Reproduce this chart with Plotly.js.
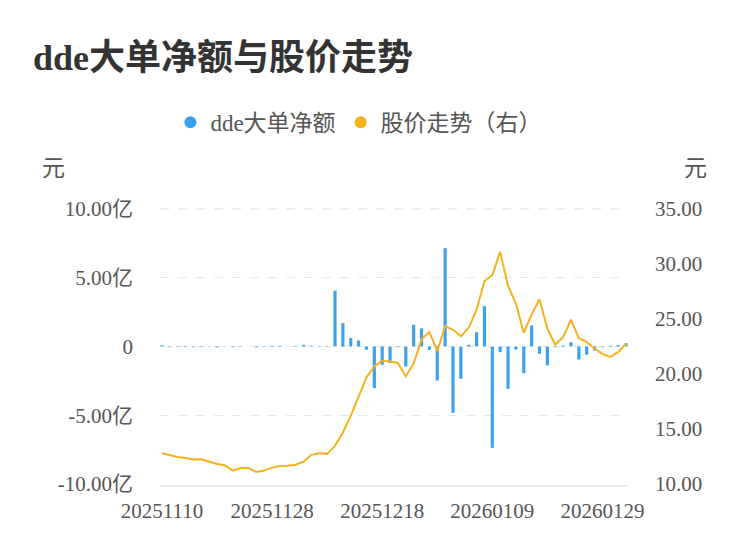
<!DOCTYPE html>
<html>
<head>
<meta charset="utf-8">
<script src="https://cdn.plot.ly/plotly-3.0.1.min.js"></script>
<style>
  html, body { margin: 0; padding: 0; background: #fff; }
  #chart { width: 750px; height: 558px; }
</style>
</head>
<body>
<div id="chart"></div>
<script>
// 交易日
const dates = [
  '20251110','20251111','20251112','20251113','20251114',
  '20251117','20251118','20251119','20251120','20251121',
  '20251124','20251125','20251126','20251127','20251128',
  '20251201','20251202','20251203','20251204','20251205',
  '20251208','20251209','20251210','20251211','20251212',
  '20251215','20251216','20251217','20251218','20251219',
  '20251222','20251223','20251224','20251225','20251226',
  '20251229','20251230','20251231',
  '20260105','20260106','20260107','20260108','20260109',
  '20260112','20260113','20260114','20260115','20260116',
  '20260119','20260120','20260121','20260122','20260123',
  '20260126','20260127','20260128','20260129','20260130',
  '20260202','20260203'
];

// dde大单净额 (亿元)
const ddeNet = [
  0.08, -0.05, -0.04, -0.04, -0.05, -0.04, -0.03, -0.06, 0.02, -0.05,
  0.03, 0.00, -0.06, 0.04, 0.05, 0.06, 0.00, 0.05, 0.12, 0.05,
  0.04, -0.03, 4.05, 1.70, 0.61, 0.44, -0.24, -3.03, -1.33, -1.21,
  -0.05, -1.45, 1.58, 1.32, -0.24, -2.47, 7.15, -4.82, -2.35, 0.12,
  1.04, 2.93, -7.37, -0.41, -3.08, -0.22, -1.94, 1.53, -0.53, -1.38,
  -0.05, 0.06, 0.31, -0.95, -0.60, -0.29, -0.05, 0.05, 0.10, 0.24
];

// 股价 (元)
const price = [
  12.80, 12.62, 12.46, 12.37, 12.22, 12.25, 12.00, 11.82, 11.70, 11.22,
  11.46, 11.46, 11.09, 11.22, 11.49, 11.64, 11.67, 11.76, 12.03, 12.65,
  12.80, 12.74, 13.47, 14.68, 16.20, 17.87, 19.70, 20.68, 21.22, 21.13,
  21.00, 19.78, 20.95, 23.15, 23.82, 22.07, 24.35, 24.02, 23.44, 24.20,
  25.85, 28.43, 29.00, 31.10, 28.00, 26.40, 23.75, 25.42, 26.79, 24.11,
  22.68, 23.35, 24.93, 23.26, 22.89, 22.32, 21.83, 21.56, 21.98, 22.75
];

// 轴刻度
const xTickVals = ['20251110','20251128','20251218','20260109','20260129'];
const leftTickVals = [-10, -5, 0, 5, 10];
const leftTickText = ['-10.00亿', '-5.00亿', '0', '5.00亿', '10.00亿'];
const rightTickVals = [10, 15, 20, 25, 30, 35];

const blue = '#3aa1f0';
const orange = '#f6b21c';
const gridColor = '#e8e8e8';
const fontFamily = '"Liberation Serif", "Noto Sans CJK SC", serif';

const barTrace = {
  x: dates,
  y: ddeNet,
  type: 'bar',
  name: 'dde大单净额',
  marker: { color: blue },
  width: 0.4,
  yaxis: 'y',
  showlegend: false
};

const lineTrace = {
  x: dates,
  y: price,
  type: 'scatter',
  mode: 'lines',
  name: '股价走势（右）',
  line: { color: orange, width: 2 },
  yaxis: 'y2',
  showlegend: false
};

// 图例用圆点
const legendBar = {
  x: [null], y: [null], type: 'scatter', mode: 'markers',
  name: 'dde大单净额', marker: { color: blue, size: 12, symbol: 'circle' }
};
const legendLine = {
  x: [null], y: [null], type: 'scatter', mode: 'markers', yaxis: 'y2',
  name: '股价走势（右）', marker: { color: orange, size: 12, symbol: 'circle' }
};

const layout = {
  width: 750,
  height: 558,
  margin: { l: 160, r: 122, t: 208, b: 73 },
  paper_bgcolor: '#fff',
  plot_bgcolor: '#fff',
  font: { family: fontFamily, color: '#555', size: 21 },
  title: {
    text: '<b>dde大单净额与股价走势</b>',
    font: { family: fontFamily, size: 36, color: '#333' },
    x: 0.044, xref: 'container', xanchor: 'left',
    y: 0.898, yref: 'container', yanchor: 'middle'
  },
  showlegend: true,
  legend: {
    orientation: 'h',
    x: 0.425, xanchor: 'center',
    y: 1.309, yanchor: 'middle',
    font: { size: 23, color: '#555' },
    itemclick: false, itemdoubleclick: false
  },
  xaxis: {
    type: 'category',
    range: [-0.25, 59.25],
    tickmode: 'array',
    tickvals: xTickVals,
    ticktext: xTickVals,
    showgrid: false,
    showline: true,
    linecolor: '#ececec',
    linewidth: 2,
    ticks: '',
    ticklabelstandoff: 6,
    zeroline: false
  },
  yaxis: {
    range: [-10.07, 10.07],
    tickmode: 'array',
    tickvals: leftTickVals,
    ticktext: leftTickText,
    showgrid: true,
    gridcolor: gridColor,
    gridwidth: 1.5,
    griddash: 'dash',
    zeroline: false,
    ticks: '',
    ticklabelstandoff: 26
  },
  yaxis2: {
    overlaying: 'y',
    side: 'right',
    range: [9.91, 35.09],
    tickmode: 'array',
    tickvals: rightTickVals,
    tickformat: '.2f',
    showgrid: false,
    zeroline: false,
    ticks: '',
    ticklabelstandoff: 26
  },
  // 顶部网格线
  shapes: [
    {
      type: 'line', xref: 'paper', yref: 'y', layer: 'below',
      x0: 0, x1: 1, y0: 10, y1: 10,
      line: { color: gridColor, width: 1.5, dash: 'dash' }
    }
  ],
  annotations: [
    {
      text: '元', xref: 'paper', yref: 'paper',
      x: -0.2265, y: 1.142, xanchor: 'center', yanchor: 'middle',
      showarrow: false, font: { size: 23, color: '#555' }
    },
    {
      text: '元', xref: 'paper', yref: 'paper',
      x: 1.145, y: 1.142, xanchor: 'center', yanchor: 'middle',
      showarrow: false, font: { size: 23, color: '#555' }
    }
  ]
};

Plotly.newPlot('chart', [barTrace, lineTrace, legendBar, legendLine], layout,
  { displayModeBar: false, staticPlot: true });
</script>
</body>
</html>
